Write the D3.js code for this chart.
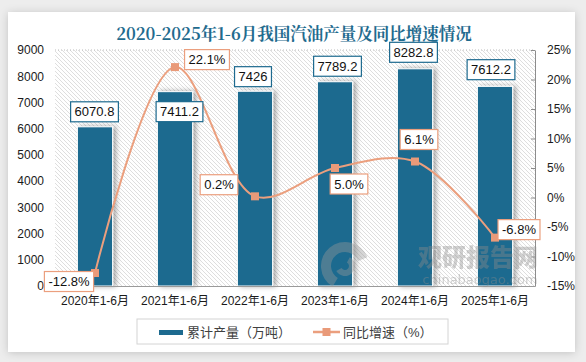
<!DOCTYPE html>
<html><head><meta charset="utf-8">
<script src="https://cdn.jsdelivr.net/npm/d3@7/dist/d3.min.js"></script>
<style>
html,body{margin:0;padding:0;background:#ededed;}
svg{display:block;}
</style></head>
<body>
<svg id="chart" width="586" height="362"></svg>
<script>
const categories = ["2020年1-6月","2021年1-6月","2022年1-6月","2023年1-6月","2024年1-6月","2025年1-6月"];
const production = [6070.8, 7411.2, 7426, 7789.2, 8282.8, 7612.2];
const growth = [-12.8, 22.1, 0.2, 5.0, 6.1, -6.8];
const leftTicks = [0,1000,2000,3000,4000,5000,6000,7000,8000,9000];
const rightTicks = [-15,-10,-5,0,5,10,15,20,25];
const title = "2020-2025年1-6月我国汽油产量及同比增速情况";
const legendLabels = ["累计产量（万吨）","同比增速（%）"];

// layout (not data)
const layout = {
  plot:{left:55,right:535,top:50,bottom:286},
  barLabelOffset:[[-0.5,-15],[4.5,20],[-2,-14.6],[2.5,-15.5],[-1.5,-16.5],[-4,-16.7]],
  lineLabelOffset:[[-26,8.5],[32,-7.5],[-36,-11.6],[14,16],[4,-22],[24,-8]]
};
const BLUE="#1d6a8f", SALMON="#eb9f7e", MARK="#e99a79";
const FONT="'Liberation Sans','Noto Sans CJK SC',sans-serif";

const svg=d3.select("#chart");
const defs=svg.append("defs");
const f=defs.append("filter").attr("id","cardShadow").attr("x","-5%").attr("y","-5%").attr("width","110%").attr("height","110%");
f.append("feDropShadow").attr("dx",0).attr("dy",1).attr("stdDeviation",4).attr("flood-color","#000").attr("flood-opacity",0.18);
const bs=defs.append("filter").attr("id","barShadow").attr("x","-20%").attr("y","-10%").attr("width","160%").attr("height","120%");
bs.append("feDropShadow").attr("dx",3).attr("dy",0).attr("stdDeviation",2.5).attr("flood-color","#000").attr("flood-opacity",0.35);
const pat=defs.append("pattern").attr("id","hatch").attr("patternUnits","userSpaceOnUse").attr("width",4).attr("height",4);
pat.append("path").attr("d","M-1,-1 L5,5 M-1,3 L1,5 M3,-1 L5,1").attr("stroke","#d6d6d6").attr("stroke-width",0.8);

// card
svg.append("rect").attr("x",8).attr("y",12).attr("width",567).attr("height",340).attr("fill","#fff").attr("filter","url(#cardShadow)");

// title
svg.append("text").attr("x",294).attr("y",40).attr("text-anchor","middle")
  .attr("font-family","'Noto Serif CJK SC','Noto Sans CJK SC',serif").attr("font-weight","bold")
  .attr("font-size",16.5).attr("fill","#1f6b8e").text(title);

const P=layout.plot;
const x=d3.scaleBand().domain(categories).range([P.left,P.right]).paddingInner(0.56).paddingOuter(0.28);
const yL=d3.scaleLinear().domain([0,9000]).range([P.bottom,P.top]);
const yR=d3.scaleLinear().domain([-15,25]).range([P.bottom,P.top]);

// plot background hatch
svg.append("rect").attr("x",P.left).attr("y",P.top).attr("width",P.right-P.left).attr("height",P.bottom-P.top).attr("fill","url(#hatch)");
// top dotted grid
svg.append("line").attr("x1",P.left).attr("x2",P.right).attr("y1",yL(9000)).attr("y2",yL(9000))
  .attr("stroke","#bbb").attr("stroke-dasharray","1,2");

// bars
svg.append("g").selectAll("rect").data(production).join("rect")
  .attr("x",(d,i)=>x(categories[i])).attr("y",d=>yL(d))
  .attr("width",x.bandwidth()).attr("height",d=>yL(0)-yL(d))
  .attr("fill",BLUE).attr("stroke","#fff").attr("stroke-width",1).attr("filter","url(#barShadow)");

// axes
const gL=svg.append("g").attr("transform",`translate(${P.left},0)`)
  .call(d3.axisLeft(yL).tickValues(leftTicks).tickFormat(d3.format("d")).tickSize(0).tickPadding(11));
gL.select(".domain").remove();
const gR=svg.append("g").attr("transform",`translate(${P.right},0)`)
  .call(d3.axisRight(yR).tickValues(rightTicks).tickSizeInner(-4).tickSizeOuter(0).tickPadding(12).tickFormat(d=>d+"%"));
gR.select(".domain").attr("stroke","#8c8c8c");
gR.selectAll(".tick line").attr("stroke","#8c8c8c");
const gB=svg.append("g").attr("transform",`translate(0,${P.bottom})`)
  .call(d3.axisBottom(x).tickSize(0).tickPadding(10));
gB.select(".domain").attr("stroke","#9a9a9a");
[gL,gR,gB].forEach(g=>g.selectAll("text").attr("font-family",FONT).attr("font-size",12).attr("fill","#1a1a1a"));

// line
const cx=i=>x(categories[i])+x.bandwidth()/2;
const line=d3.line().x((d,i)=>cx(i)).y(d=>yR(d)).curve(d3.curveCatmullRom.alpha(0.5));
svg.append("path").datum(growth).attr("d",line).attr("fill","none").attr("stroke",SALMON).attr("stroke-width",2);
svg.append("g").selectAll("rect").data(growth).join("rect")
  .attr("x",(d,i)=>cx(i)-4).attr("y",d=>yR(d)-4).attr("width",8).attr("height",8).attr("fill",MARK);

// watermark (drawn over the bars, semi-transparent)
const wm=svg.append("g").attr("opacity",0.4);
wm.append("path").attr("d",d3.arc()({innerRadius:14,outerRadius:24,startAngle:-2.6,endAngle:1.2}))
  .attr("transform","translate(345,266)").attr("fill","#9a9a9a");
wm.append("path").attr("d",d3.arc()({innerRadius:4,outerRadius:10,startAngle:0.5,endAngle:4.2}))
  .attr("transform","translate(345,266)").attr("fill","#9a9a9a");
wm.append("text").attr("x",478).attr("y",266).attr("text-anchor","middle").attr("font-family","'Noto Sans CJK SC',sans-serif")
  .attr("font-weight","900").attr("font-size",24).attr("fill","#8c8c8c").text("观研报告网");
wm.append("text").attr("x",480).attr("y",284).attr("text-anchor","middle").attr("font-family","'DejaVu Sans',sans-serif")
  .attr("font-size",13).attr("fill","#8c8c8c").text("chinabaogao.com");

// labels
function boxLabel(g,cxp,cyp,txt,stroke){
  const t=g.append("text").attr("x",cxp).attr("y",cyp).attr("dy","0.35em").attr("text-anchor","middle")
    .attr("font-family",FONT).attr("font-size",13).attr("fill","#111").text(txt);
  const w=t.node().getComputedTextLength()+8, h=20;
  g.insert("rect","text").attr("x",cxp-w/2).attr("y",cyp-h/2).attr("width",w).attr("height",h)
    .attr("fill","#fff").attr("stroke",stroke).attr("stroke-width",1.2);
}
production.forEach((v,i)=>{
  const o=layout.barLabelOffset[i];
  boxLabel(svg.append("g"),cx(i)+o[0],yL(v)+o[1],String(v),BLUE);
});
growth.forEach((v,i)=>{
  const o=layout.lineLabelOffset[i];
  boxLabel(svg.append("g"),cx(i)+o[0],yR(v)+o[1],v.toFixed(1)+"%",SALMON);
});

// legend
const lg=svg.append("g");
lg.append("rect").attr("x",137).attr("y",319).attr("width",311).attr("height",25).attr("fill","#fff").attr("stroke","#d4d4d4");
lg.append("rect").attr("x",159).attr("y",330).attr("width",24).attr("height",5).attr("fill",BLUE);
lg.append("text").attr("x",187).attr("y",337).attr("font-family",FONT).attr("font-size",13).attr("fill","#404040").text(legendLabels[0]);
lg.append("line").attr("x1",313).attr("x2",340).attr("y1",332).attr("y2",332).attr("stroke",SALMON).attr("stroke-width",2.5);
lg.append("rect").attr("x",322.5).attr("y",328).attr("width",8).attr("height",8).attr("fill",MARK);
lg.append("text").attr("x",343).attr("y",337).attr("font-family",FONT).attr("font-size",13).attr("fill","#404040").text(legendLabels[1]);
</script>
</body></html>
